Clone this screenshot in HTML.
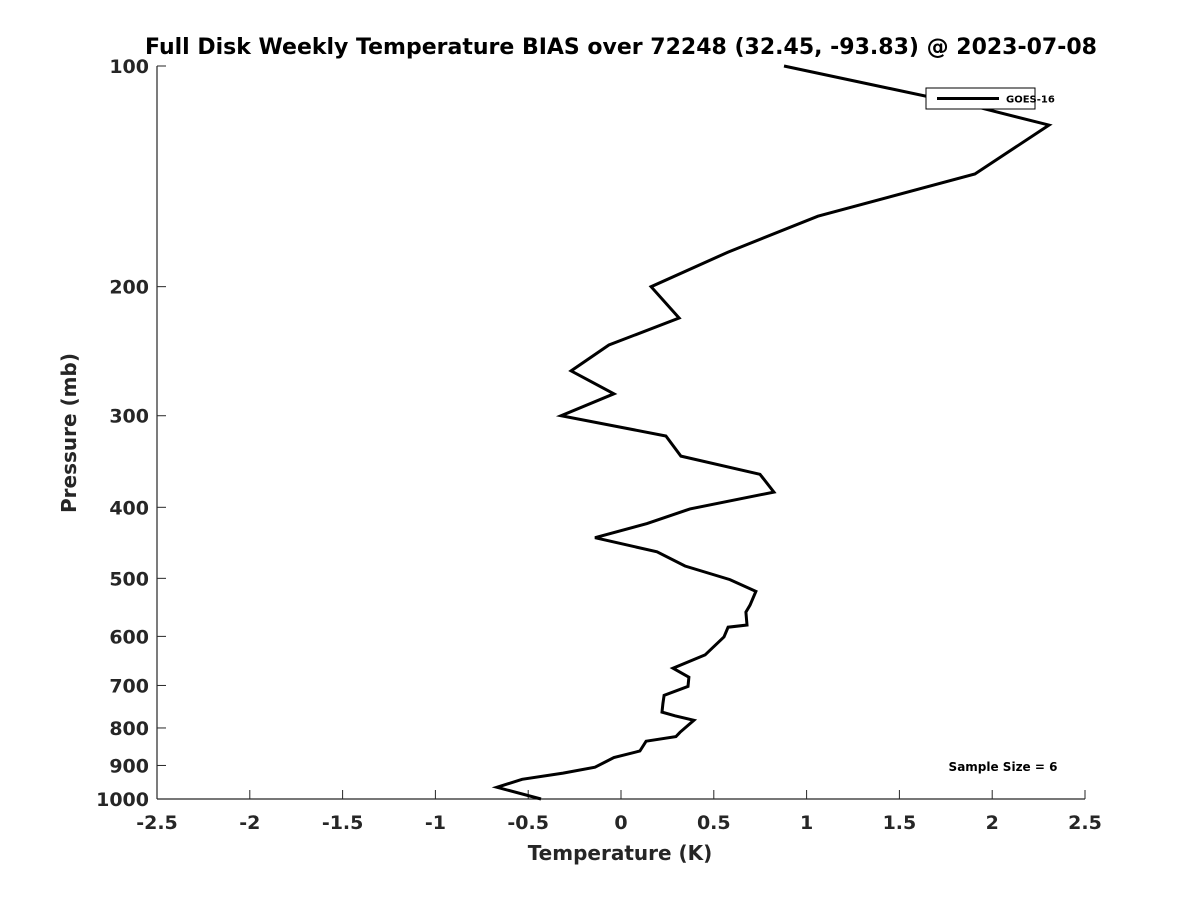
<!DOCTYPE html>
<html><head><meta charset="utf-8"><style>
body{margin:0;background:#fff}
svg{display:block;font-family:"DejaVu Sans","Liberation Sans",sans-serif}
</style></head><body>
<svg id="chart" width="1200" height="900">
<text x="621" y="54" text-anchor="middle" font-size="22" font-weight="bold" fill="#000">Full Disk Weekly Temperature BIAS over 72248 (32.45, -93.83) @ 2023-07-08</text>
<g id="axes"></g>
<text x="620" y="860" text-anchor="middle" font-size="20" font-weight="bold" fill="#262626">Temperature (K)</text>
<text transform="translate(76,433) rotate(-90)" text-anchor="middle" font-size="20" font-weight="bold" fill="#262626">Pressure (mb)</text>
<g id="series"></g>
<g>
<rect x="926" y="88" width="109" height="21" fill="#fff" stroke="#000" stroke-width="1"/>
<line x1="937" y1="98.5" x2="999" y2="98.5" stroke="#000" stroke-width="3"/>
<text x="1006" y="102.5" font-size="10" font-weight="bold">GOES-16</text>
</g>
<text x="1003" y="771" text-anchor="middle" font-size="12" font-weight="bold">Sample Size = 6</text>
</svg>
<script>
const xTicks=[-2.5,-2,-1.5,-1,-0.5,0,0.5,1,1.5,2,2.5];
const xTickLabels=["-2.5","-2","-1.5","-1","-0.5","0","0.5","1","1.5","2","2.5"];
const yTicks=[100,200,300,400,500,600,700,800,900,1000];
const yTickLabels=["100","200","300","400","500","600","700","800","900","1000"];
const temps=[0.878,1.934,2.306,1.907,1.061,0.577,0.162,0.313,-0.065,-0.269,-0.038,-0.323,0.242,0.323,0.749,0.824,0.372,0.140,-0.140,0.194,0.345,0.587,0.727,0.695,0.673,0.679,0.577,0.555,0.453,0.280,0.366,0.361,0.232,0.226,0.221,0.291,0.393,0.318,0.296,0.135,0.102,-0.038,-0.140,-0.312,-0.533,-0.668,-0.431];
const pressures=[100,114,120.4,140.4,160.3,179.4,200,220.7,240.2,260.6,280,300,319.7,340.6,360.6,381.3,402,421,440,460,481,502,521,544,556,579,583,601,636,663,682,702,722,741,761,770,781,811,822,834,860,878,905,922,940,964,1000];
const X0=157,X1=1085,Y0=66,Y1=799;
const xs=v=>X0+(v+2.5)/5*(X1-X0);
const ys=p=>Y0+Math.log10(p/100)*(Y1-Y0);
const NS="http://www.w3.org/2000/svg";
const ax=document.getElementById('axes');
function mk(tag,attrs,parent){const e=document.createElementNS(NS,tag);for(const k in attrs)e.setAttribute(k,attrs[k]);parent.appendChild(e);return e;}
let l=mk('line',{x1:X0,y1:Y1,x2:X1,y2:Y1,stroke:'#262626','stroke-width':1.2},ax);


l=mk('line',{x1:X0,y1:Y0,x2:X0,y2:Y1,stroke:'#262626','stroke-width':1.2},ax);


xTicks.forEach((v,i)=>{
 const x=xs(v);
 const t=mk('line',{x1:x,y1:Y1,x2:x,y2:Y1-9,stroke:'#262626','stroke-width':1},ax);
 
 
 const tx=mk('text',{x:x,y:Y1+30,'text-anchor':'middle','font-size':19,'font-weight':'bold',fill:'#262626'},ax);
 tx.textContent=xTickLabels[i];
 
 
});
yTicks.forEach((p,i)=>{
 const y=ys(p);
 const t=mk('line',{x1:X0,y1:y,x2:X0+9,y2:y,stroke:'#262626','stroke-width':1},ax);
 
 
 const tx=mk('text',{x:X0-8,y:y+7,'text-anchor':'end','font-size':19,'font-weight':'bold',fill:'#262626'},ax);
 tx.textContent=yTickLabels[i];
 
 
});
const pts=temps.map((t,i)=>xs(t).toFixed(1)+','+ys(pressures[i]).toFixed(1)).join(' ');
const pl=mk('polyline',{points:pts,fill:'none',stroke:'#000','stroke-width':3,'stroke-linejoin':'miter'},document.getElementById('series'));


</script>
</body></html>
